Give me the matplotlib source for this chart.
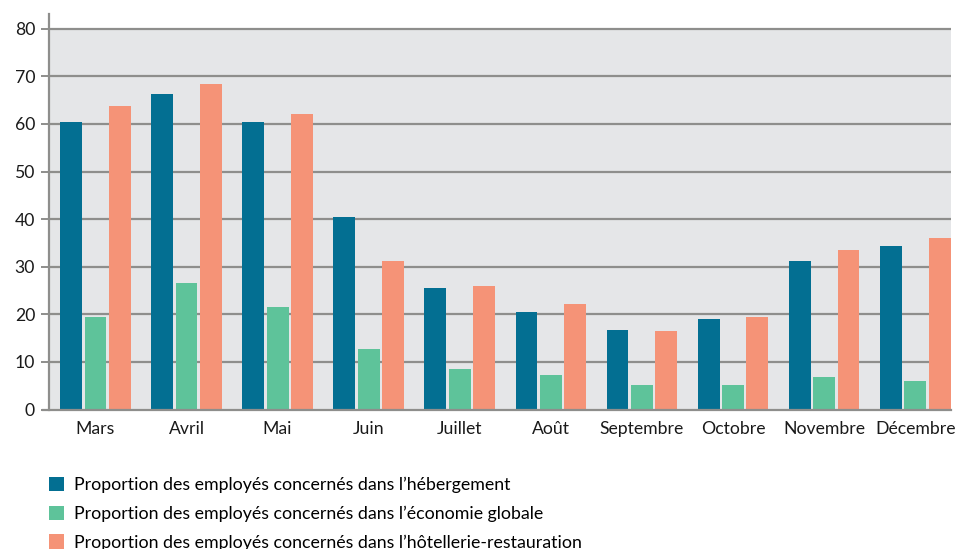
import matplotlib
matplotlib.use("Agg")
import matplotlib.pyplot as plt
from matplotlib.patches import Patch
import numpy as np

plt.rcParams['font.family'] = ['Lato', 'DejaVu Sans']

mois = ['Mars', 'Avril', 'Mai', 'Juin', 'Juillet', 'Août',
        'Septembre', 'Octobre', 'Novembre', 'Décembre']
hebergement = [60.5, 66.2, 60.5, 40.5, 25.5, 20.5, 16.7, 19.0, 31.2, 34.3]
economie = [19.4, 26.5, 21.5, 12.7, 8.5, 7.3, 5.2, 5.2, 6.9, 6.0]
hotellerie = [63.8, 68.3, 62.1, 31.1, 25.9, 22.2, 16.5, 19.4, 33.6, 36.0]

labels = ["Proportion des employés concernés dans l\u2019hébergement",
          "Proportion des employés concernés dans l\u2019économie globale",
          "Proportion des employés concernés dans l\u2019hôtellerie-restauration"]
couleurs = ['#036f92', '#5ec39a', '#f59377']

fig = plt.figure(figsize=(9.62, 5.49), dpi=100)
ax = fig.add_axes([49/962, 139.5/549, (950.7-49)/962, (409.5-13.5)/549])

x = np.arange(len(mois))
w = 0.24
d = 0.268
ax.axhspan(0, 80, color='#e5e6e8', zorder=0, lw=0)
ax.bar(x - d, hebergement, w, color=couleurs[0], zorder=3)
ax.bar(x, economie, w, color=couleurs[1], zorder=3)
ax.bar(x + d, hotellerie, w, color=couleurs[2], zorder=3)

ax.set_xlim(-0.51, 9.39)
ax.set_ylim(0, 83.2)
ax.set_yticks(range(0, 81, 10))
for v in range(10, 81, 10):
    ax.axhline(v, color='#8e8e8c', lw=1.6, zorder=1)
ax.axhline(0, color='#8e8e8c', lw=1.6, zorder=4, xmin=-0.007, clip_on=False)

ax.set_xticks(x)
ax.set_xticklabels(mois, fontsize=12.7, color='#1a1a1a')
ax.tick_params(axis='x', length=0, pad=8)
ax.tick_params(axis='y', length=6, width=1.4, color='#8e8e8c', labelsize=12.7,
               labelcolor='#1a1a1a', pad=4)
for s in ['top', 'right', 'bottom']:
    ax.spines[s].set_visible(False)
ax.spines['left'].set_color('#8e8e8c')
ax.spines['left'].set_linewidth(1.6)

handles = [Patch(facecolor=c, edgecolor='none') for c in couleurs]
fig.legend(handles, labels, loc='upper left', bbox_to_anchor=(49/962, 1 - 477/549),
           frameon=False, fontsize=12.8, handlelength=0.85, handleheight=0.85,
           handletextpad=0.56, labelspacing=0.69, borderaxespad=0, borderpad=0)

fig.savefig('out.png', dpi=100)
